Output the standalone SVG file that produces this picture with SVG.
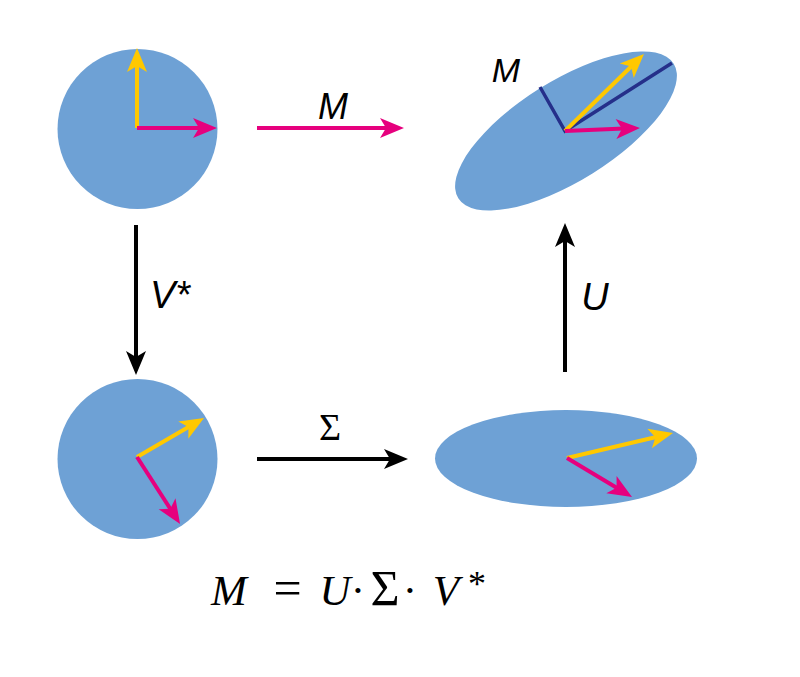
<svg xmlns="http://www.w3.org/2000/svg" width="800" height="677" viewBox="0 0 800 677">
<style>
.shape{fill:#6ea1d5}
.y{stroke:#ffc800;stroke-width:4;fill:none}
.m{stroke:#e6007e;stroke-width:4;fill:none}
.k{stroke:#000;stroke-width:4;fill:none}
.lab{font-family:"Liberation Sans",Arial,sans-serif;font-style:italic;fill:#000}
.ser{font-family:"Liberation Serif","Times New Roman",serif;fill:#000}
.it{font-style:italic}
</style>
<defs>
<marker id="hy" markerUnits="userSpaceOnUse" orient="auto" refX="8" refY="0" markerWidth="30" markerHeight="30" overflow="visible"><path d="M0,-10 L24,0 L0,10 L6,0 Z" fill="#ffc800"/></marker>
<marker id="hm" markerUnits="userSpaceOnUse" orient="auto" refX="8" refY="0" markerWidth="30" markerHeight="30" overflow="visible"><path d="M0,-10 L24,0 L0,10 L6,0 Z" fill="#e6007e"/></marker>
<marker id="hk" markerUnits="userSpaceOnUse" orient="auto" refX="8" refY="0" markerWidth="30" markerHeight="30" overflow="visible"><path d="M0,-10 L24,0 L0,10 L6,0 Z" fill="#000"/></marker>
</defs>
<rect width="800" height="677" fill="#fff"/>
<g id="circle-top">
<circle class="shape" cx="137.5" cy="129" r="80"/>
<line class="y" x1="137" y1="128" x2="137" y2="64" marker-end="url(#hy)"/>
<line class="m" x1="137" y1="128" x2="201" y2="128" marker-end="url(#hm)"/>
</g>
<g id="ellipse-top">
<ellipse class="shape" cx="566" cy="131" rx="127" ry="50" transform="rotate(-32 566 131)"/>
<polyline points="540,87 565,131 672,63" fill="none" stroke="#252f8a" stroke-width="3.5"/>
<line class="y" x1="565" y1="131" x2="632.5" y2="65.2" marker-end="url(#hy)"/>
<line class="m" x1="565" y1="131" x2="624" y2="128.6" marker-end="url(#hm)"/>
<text class="lab" x="506" y="82" font-size="34" text-anchor="middle">M</text>
</g>
<g id="circle-bottom">
<circle class="shape" cx="137.5" cy="459" r="80"/>
<line class="y" x1="137" y1="457" x2="190.2" y2="426" marker-end="url(#hy)"/>
<line class="m" x1="137" y1="457" x2="171.4" y2="510.5" marker-end="url(#hm)"/>
</g>
<g id="ellipse-bottom">
<ellipse class="shape" cx="566" cy="458.5" rx="131" ry="48.5"/>
<line class="y" x1="567" y1="458" x2="657.4" y2="436.7" marker-end="url(#hy)"/>
<line class="m" x1="567" y1="458" x2="618.3" y2="488.8" marker-end="url(#hm)"/>
</g>
<g id="connectors">
<line class="m" x1="257" y1="128" x2="388" y2="128" marker-end="url(#hm)"/>
<line class="k" x1="136" y1="225" x2="136" y2="359" marker-end="url(#hk)"/>
<line class="k" x1="257" y1="459" x2="392" y2="459" marker-end="url(#hk)"/>
<line class="k" x1="565" y1="372" x2="565" y2="239" marker-end="url(#hk)"/>
<text class="lab" x="333" y="119" font-size="36" text-anchor="middle">M</text>
<text class="lab" x="150" y="308" font-size="38">V*</text>
<text class="lab" x="595" y="310" font-size="38" text-anchor="middle">U</text>
<text class="ser" x="330" y="440" font-size="38" text-anchor="middle">Σ</text>
</g>
<g id="formula" class="ser">
<text class="it" x="211" y="605" font-size="43">M</text>
<text x="287.5" y="605" font-size="50" text-anchor="middle">=</text>
<text class="it" x="335" y="605" font-size="43" text-anchor="middle">U</text>
<text x="358" y="605" font-size="43" text-anchor="middle">·</text>
<text x="385" y="605" font-size="50" text-anchor="middle">Σ</text>
<text x="410" y="605" font-size="43" text-anchor="middle">·</text>
<text class="it" x="446" y="605" font-size="43" text-anchor="middle">V</text>
<text x="477" y="596" font-size="36" text-anchor="middle">*</text>
</g>
</svg>
